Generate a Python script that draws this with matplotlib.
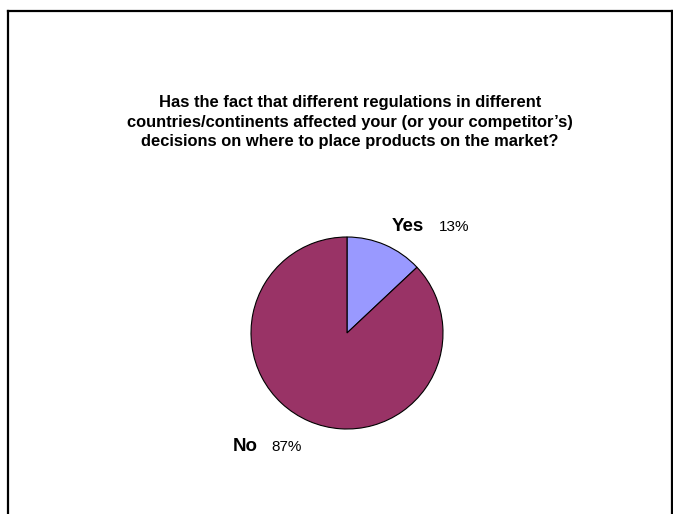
import matplotlib.pyplot as plt
from matplotlib.lines import Line2D

plt.rcParams["font.family"] = ["Liberation Sans", "DejaVu Sans"]

answers = ["Yes", "No"]
shares = [13, 87]
colors = ["#9999FF", "#993366"]

title = ("Has the fact that different regulations in different\n"
         "countries/continents affected your (or your competitor\u2019s)\n"
         "decisions on where to place products on the market?")

W, H = 673, 514
fig = plt.figure(figsize=(W / 100, H / 100), dpi=100)
fig.patch.set_facecolor("white")

# full-figure axes in pixel units (y measured upward)
ax = fig.add_axes([0, 0, 1, 1])
ax.set_xlim(0, W)
ax.set_ylim(0, H)
ax.set_aspect("equal")
ax.axis("off")

# frame: left, top and right edges only
for xs, ys in [([8, 8], [0, H - 11]), ([8, W - 1.5], [H - 11, H - 11]),
               ([W - 1.5, W - 1.5], [0, H - 11])]:
    ax.add_line(Line2D(xs, ys, color="black", linewidth=1.6))

ax.text(350, H - 122, title, ha="center", va="center", fontsize=11.9,
        fontweight="bold", linespacing=1.4)

ax.pie(shares, colors=colors, center=(347, H - 333), radius=96,
       startangle=90, counterclock=False,
       wedgeprops=dict(edgecolor="black", linewidth=0.8))
ax.set_xlim(0, W)
ax.set_ylim(0, H)

# label anchors: (name x, percent x, baseline y)
label_pos = {"Yes": (392, 439, H - 231), "No": (233, 271, H - 451)}
for name, v in zip(answers, shares):
    x, xp, y = label_pos[name]
    ax.text(x, y, name, ha="left", va="baseline", fontsize=13.5,
            fontweight="bold")
    ax.text(xp, y, f"{v}%", ha="left", va="baseline", fontsize=11)

fig.savefig("out.png", dpi=100, facecolor="white")
